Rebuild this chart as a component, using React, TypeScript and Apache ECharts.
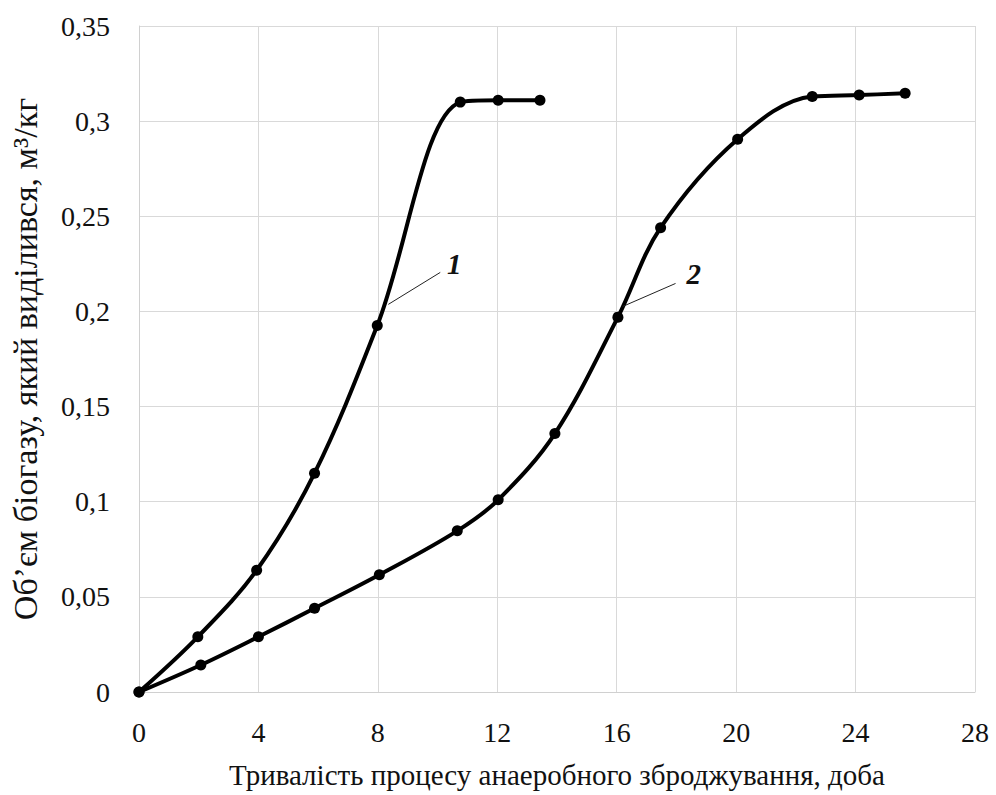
import React, { useEffect, useRef } from "react";
import * as echarts from "echarts";

const xTicks = [0, 4, 8, 12, 16, 20, 24, 28];
const s1x = [0, 1.97, 3.94, 5.88, 7.98, 10.76, 12.03, 13.43];
const s1y = [0, 0.029, 0.064, 0.115, 0.1926, 0.31, 0.311, 0.311];
const s2x = [0, 2.07, 4.0, 5.88, 8.05, 10.66, 12.03, 13.93, 16.04, 17.47, 20.05, 22.55, 24.12, 25.66];
const s2y = [0, 0.0142, 0.029, 0.044, 0.0616, 0.0847, 0.101, 0.1358, 0.197, 0.244, 0.2905, 0.313, 0.3137, 0.3147];
const labels = ["1", "2"];
const leaderStart = [[8.35, 0.2037], [16.2, 0.2026]];
const leaderEnd = [[10.09, 0.2205], [17.97, 0.2147]];
const labelPos = [[10.56, 0.2247], [18.58, 0.2195]];

const FONT = "\"Liberation Serif\", \"Times New Roman\", serif";

export default function App() {
  const ref = useRef<HTMLDivElement>(null);
  useEffect(() => {
    if (!ref.current) return;
    const chart = echarts.init(ref.current, null, { renderer: "svg" });
    const fmt = (v: number) => String(Math.round(v * 100) / 100).replace(".", ",");
    const mkSeries = (xs: number[], ys: number[]) => ({
      type: "line",
      data: xs.map((x, i) => [x, ys[i]]),
      smooth: 0.35,
      symbol: "circle",
      symbolSize: 11,
      lineStyle: { color: "#000", width: 4 },
      itemStyle: { color: "#000" },
      z: 3,
    });
    chart.setOption({
      animation: false,
      backgroundColor: "#fff",
      textStyle: { fontFamily: FONT },
      grid: { left: 137, right: 21, top: 26, bottom: 103, containLabel: false },
      xAxis: {
        type: "value",
        min: 0,
        max: 28,
        interval: 4,
        name: "Тривалість процесу анаеробного зброджування, доба",
        nameLocation: "middle",
        nameGap: 68,
        nameTextStyle: { fontFamily: FONT, fontSize: 29, color: "#111" },
        axisLine: { lineStyle: { color: "#d0d0d0", width: 1 } },
        axisTick: { show: false },
        axisLabel: { fontFamily: FONT, fontSize: 28, color: "#111", margin: 26 },
        splitLine: { show: true, lineStyle: { color: "#d9d9d9", width: 1 } },
      },
      yAxis: {
        type: "value",
        min: 0,
        max: 0.35,
        interval: 0.05,
        name: "Об’єм біогазу, який виділився, м³/кг",
        nameLocation: "middle",
        nameGap: 97,
        nameRotate: 90,
        nameTextStyle: { fontFamily: FONT, fontSize: 34, color: "#111" },
        axisLine: { show: true, lineStyle: { color: "#d0d0d0", width: 1 } },
        axisTick: { show: false },
        axisLabel: { fontFamily: FONT, fontSize: 28, color: "#111", margin: 29, formatter: fmt },
        splitLine: { show: true, lineStyle: { color: "#d9d9d9", width: 1 } },
      },
      series: [mkSeries(s1x, s1y), mkSeries(s2x, s2y)],
    });
    const elements: any[] = [];
    labels.forEach((t, i) => {
      const a = chart.convertToPixel({ gridIndex: 0 }, leaderStart[i]) as number[];
      const b = chart.convertToPixel({ gridIndex: 0 }, leaderEnd[i]) as number[];
      const c = chart.convertToPixel({ gridIndex: 0 }, labelPos[i]) as number[];
      elements.push({
        type: "line",
        shape: { x1: a[0], y1: a[1], x2: b[0], y2: b[1] },
        style: { stroke: "#222", lineWidth: 1 },
        z: 10,
      });
      elements.push({
        type: "text",
        x: c[0],
        y: c[1],
        style: {
          text: t,
          fontFamily: FONT,
          fontSize: 29,
          fontStyle: "italic",
          fontWeight: "bold",
          fill: "#111",
          align: "center",
          verticalAlign: "middle",
        },
        z: 10,
      });
    });
    chart.setOption({ graphic: elements });
    return () => chart.dispose();
  }, []);
  return (
    <div
      ref={ref}
      style={{ position: "fixed", left: 0, top: 0, width: 996, height: 795, background: "#fff" }}
    />
  );
}
